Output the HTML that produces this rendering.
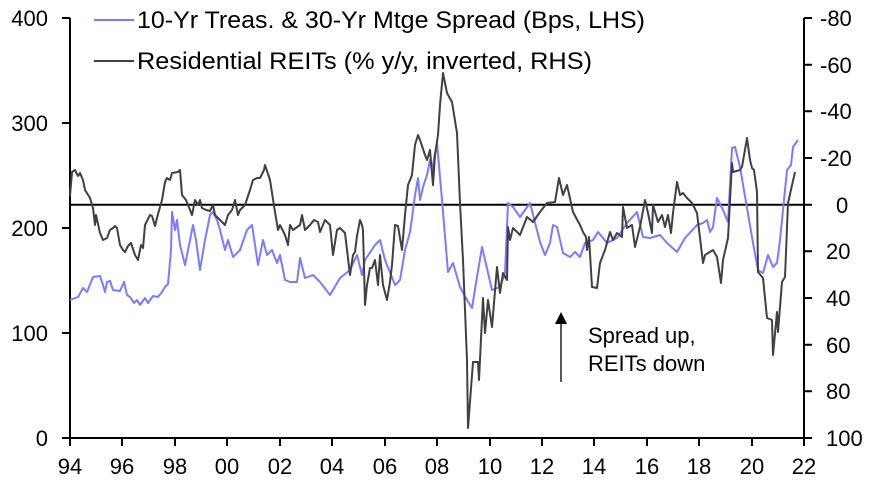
<!DOCTYPE html><html><head><style>body{margin:0;background:#fff}svg{display:block;font-family:"Liberation Sans",Arial,sans-serif}</style></head><body>
<svg width="874" height="482" viewBox="0 0 874 482">
<g font-size="22" fill="#000">
<text x="48" y="26" text-anchor="end">400</text>
<text x="48" y="131" text-anchor="end">300</text>
<text x="48" y="236" text-anchor="end">200</text>
<text x="48" y="341" text-anchor="end">100</text>
<text x="48" y="446" text-anchor="end">0</text>
<text x="820" y="26">-80</text>
<text x="820" y="73">-60</text>
<text x="820" y="119">-40</text>
<text x="820" y="166">-20</text>
<text x="836" y="213">0</text>
<text x="826" y="259">20</text>
<text x="826" y="306">40</text>
<text x="826" y="353">60</text>
<text x="826" y="399">80</text>
<text x="826" y="446">100</text>
<g text-anchor="middle"><text x="70" y="474">94</text><text x="122" y="474">96</text><text x="175" y="474">98</text><text x="227" y="474">00</text><text x="280" y="474">02</text><text x="332" y="474">04</text><text x="385" y="474">06</text><text x="437" y="474">08</text><text x="490" y="474">10</text><text x="542" y="474">12</text><text x="594" y="474">14</text><text x="647" y="474">16</text><text x="699" y="474">18</text><text x="752" y="474">20</text><text x="804" y="474">22</text></g>
<text x="137" y="28" textLength="508" lengthAdjust="spacingAndGlyphs" font-size="24">10-Yr Treas. &amp; 30-Yr Mtge Spread (Bps, LHS)</text>
<text x="137" y="69" textLength="455" lengthAdjust="spacingAndGlyphs" font-size="24">Residential REITs (% y/y, inverted, RHS)</text>
<text x="588" y="343">Spread up,</text>
<text x="588" y="371">REITs down</text>
</g>
<line x1="94" y1="20" x2="134" y2="20" stroke="#7b7bff" stroke-width="2"/>
<line x1="94" y1="61" x2="134" y2="61" stroke="#404040" stroke-width="2"/>
<g stroke="#000" stroke-width="2" fill="none">
<line x1="70" y1="18" x2="70" y2="439"/>
<line x1="804" y1="18" x2="804" y2="439"/>
<line x1="62" y1="438" x2="805" y2="438"/>
<line x1="70" y1="204.7" x2="804" y2="204.7"/>
<path d="M62 18H70M62 123H70M62 228H70M62 333H70M804 18H812M804 64.7H812M804 111.3H812M804 158H812M804 204.7H812M804 251.3H812M804 298H812M804 344.7H812M804 391.3H812M804 438H812"/>
<path d="M70 438V446M122 438V446M175 438V446M227 438V446M280 438V446M332 438V446M385 438V446M437 438V446M490 438V446M542 438V446M594 438V446M647 438V446M699 438V446M752 438V446M804 438V446"/>
</g>
<line x1="561" y1="382" x2="561" y2="322" stroke="#000" stroke-width="1.3"/>
<polygon points="561,312 555,324 567,324" fill="#000"/>
<polyline fill="none" stroke="#7b7bff" stroke-width="2" stroke-linejoin="round" points="70,300 78,297 83,288 87,292 93,277 100,276 103,285 105,292 107,282 110,281 113,290 120,291 124,282 127,295 130,297 134,303 137,300 140,305 145,298 148,303 153,296 158,297 162,292 165,287 168,284 171,250 172,212 175,230 177,220 180,245 185,265 190,240 193,225 196,240 200,270 205,240 210,215 213,212 217,220 220,230 225,250 228,240 233,257 240,250 247,230 252,225 258,265 263,240 267,255 272,250 277,263 280,255 285,280 290,282 297,282 300,258 305,278 313,275 320,282 330,295 340,278 350,270 357,255 362,275 365,260 375,245 380,240 385,260 395,285 400,280 405,250 410,232 412,218 415,195 418,178 420,200 423,187 427,175 430,160 432,170 437,143 442,200 448,272 453,263 460,287 467,300 472,308 477,277 482,247 492,290 500,287 505,273 508,203 513,207 520,217 530,203 540,242 545,255 550,243 553,225 557,227 563,253 570,257 575,252 580,257 585,243 593,240 598,232 607,243 617,238 627,223 637,212 643,237 650,238 660,235 667,243 677,252 685,238 697,225 703,223 707,220 710,232 713,227 717,198 723,210 728,222 732,148 735,147 740,167 753,243 758,270 763,273 768,255 773,267 777,263 780,240 787,170 791,165 793,147 798,140"/>
<polyline fill="none" stroke="#404040" stroke-width="2" stroke-linejoin="round" points="70,196 72,172 75,170 78,176 80,173 83,180 85,190 90,198 93,208 95,225 96,215 100,233 103,240 107,238 110,230 113,228 115,226 117,228 120,245 123,250 125,252 128,246 131,243 135,255 138,260 141,245 143,248 145,225 150,215 152,216 155,226 158,214 162,200 165,182 167,178 170,180 172,173 178,172 180,170 182,195 186,200 190,210 192,215 195,200 198,205 200,200 202,208 206,210 210,211 213,205 215,215 220,220 225,225 228,215 232,210 235,200 238,215 240,210 245,205 250,190 253,180 257,178 260,178 264,170 265,165 270,180 275,212 278,230 280,225 285,235 288,245 290,225 293,230 300,225 302,215 305,230 310,225 314,220 318,222 320,232 325,220 330,225 333,255 337,230 340,228 345,233 350,275 353,255 355,252 357,236 360,220 362,225 363,230 365,305 367,285 370,268 372,268 375,260 378,285 380,255 383,285 387,300 390,282 392,265 395,225 398,226 402,250 405,215 408,185 412,175 415,145 418,135 420,140 425,155 427,160 430,150 433,185 435,155 438,135 440,105 443,73 447,93 452,102 457,133 460,203 463,260 467,360 468,428 473,362 478,362 479,380 483,298 485,333 488,300 492,327 497,267 500,293 503,273 507,280 508,227 510,240 513,228 520,235 527,217 533,222 540,212 547,203 555,202 559,178 563,195 567,185 573,212 580,225 583,232 586,237 587,250 589,237 592,287 597,288 600,263 605,250 610,232 613,240 617,233 622,237 623,207 627,228 632,225 635,247 640,227 645,200 648,213 652,233 653,205 658,222 662,215 665,227 668,215 671,233 673,213 677,182 680,195 683,193 687,198 692,203 697,213 703,263 705,255 713,250 717,257 721,283 723,260 728,238 732,163 733,172 740,170 742,167 747,138 750,160 752,168 754,170 757,192 758,272 763,278 767,318 772,320 773,355 777,312 778,332 782,282 785,277 788,203 795,172"/>
</svg>
</body></html>
